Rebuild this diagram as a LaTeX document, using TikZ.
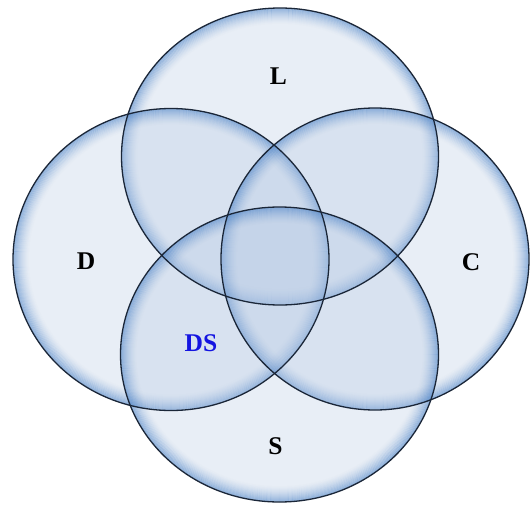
\documentclass[tikz,border=0pt]{standalone}
\usepackage{fontspec}
\setmainfont{Liberation Serif}
\definecolor{basefillc}{RGB}{180,200,228}
\definecolor{glowc}{RGB}{66,124,196}
\definecolor{outlinec}{RGB}{26,38,56}
\definecolor{dsblue}{RGB}{20,20,225}
\tikzset{
  basefill/.style={fill=basefillc, fill opacity=0.3},
  glowline/.style={draw=glowc, line width=1.3pt},
  outline/.style={draw=outlinec, line width=1.3pt},
  label/.style={font=\fontsize{25.5}{28}\selectfont\bfseries, text=black, inner sep=0pt}
}
\newcommand\glassfill[4]{%
  \fill[basefill] (#1,#2) ellipse [x radius=#3pt, y radius=#4pt];
  \foreach \k in {0,...,15} {
    \pgfmathsetmacro\op{0.42*(1-\k/16)^1.6}
    \pgfmathsetmacro\rxx{#3-\k-0.65}
    \pgfmathsetmacro\ryy{#4-\k-0.65}
    \draw[glowline, opacity=\op] (#1,#2) ellipse [x radius=\rxx pt, y radius=\ryy pt];
  }
}
\begin{document}
\begin{tikzpicture}[x=1pt, y=-1pt]
  \useasboundingbox (0,0) rectangle (530,506);
  \fill[white] (0,0) rectangle (530,506);
  % shapes: L, D, C, S
  \glassfill{280}{156.5}{158.5}{148.5}
  \glassfill{171}{259.5}{158}{151}
  \glassfill{375}{259}{154}{151}
  \glassfill{279.5}{354.5}{159}{147.5}
  \draw[outline] (280,156.5) ellipse [x radius=158.5pt, y radius=148.5pt];
  \draw[outline] (171,259.5) ellipse [x radius=158pt, y radius=151pt];
  \draw[outline] (375,259) ellipse [x radius=154pt, y radius=151pt];
  \draw[outline] (279.5,354.5) ellipse [x radius=159pt, y radius=147.5pt];
  % labels
  \node[label] (lL) at (278.5,76) {L};
  \node[label] (lD) at (86,261) {D};
  \node[label] (lC) at (471,262) {C};
  \node[label] (lS) at (275.5,446) {S};
  \node[label, text=dsblue] (lDS) at (201,343) {DS};
\end{tikzpicture}
\end{document}
